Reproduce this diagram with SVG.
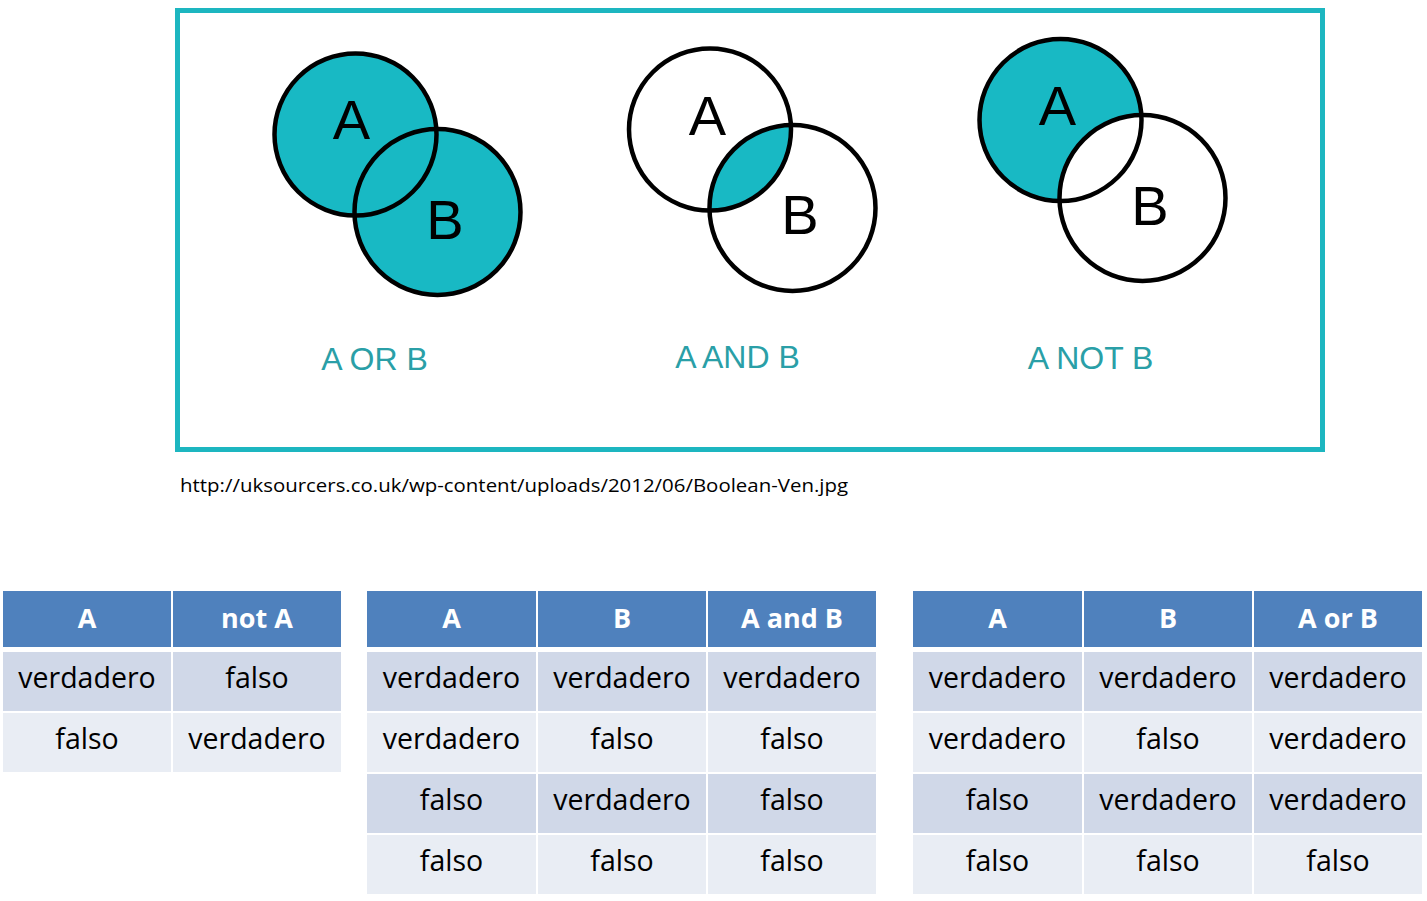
<svg xmlns="http://www.w3.org/2000/svg" width="1427" height="901" viewBox="0 0 1427 901">
<style>
.teal{fill:#18B9C4}
.ring{fill:none;stroke:#000;stroke-width:4.5}
.vl{font-family:"Liberation Sans",Arial,sans-serif;font-size:56px;fill:#000;text-anchor:middle}
.cap{font-family:"Liberation Sans",Arial,sans-serif;font-size:32px;fill:#2A9FA7;text-anchor:middle}
.hd{fill:#4F81BD}
.r1{fill:#D0D8E8}
.r2{fill:#E9EDF4}
.ht{font-family:"Open Sans","Noto Sans",sans-serif;font-weight:bold;font-size:27px;fill:#fff;text-anchor:middle}
.ct{font-family:"Open Sans","Noto Sans",sans-serif;font-size:28.5px;fill:#000;text-anchor:middle}
.url{font-family:"Open Sans","Noto Sans",sans-serif;font-size:19px;fill:#000}
</style>
<defs>
<clipPath id="clipA2"><circle cx="710" cy="129.5" r="81"/></clipPath>
</defs>
<rect width="1427" height="901" fill="#fff"/>
<rect id="frame" x="177.5" y="10.5" width="1145" height="439" fill="none" stroke="#1DB6C0" stroke-width="5"/>

<g id="venn-or">
<circle class="teal" cx="355.5" cy="134.5" r="81"/>
<circle class="teal" cx="437.5" cy="212" r="83"/>
<circle class="ring" cx="355.5" cy="134.5" r="81"/>
<circle class="ring" cx="437.5" cy="212" r="83"/>
<text class="vl" x="351.5" y="139">A</text>
<text class="vl" x="445" y="239">B</text>
<text class="cap" x="374.5" y="370">A OR B</text>
</g>

<g id="venn-and">
<circle class="teal" cx="792.5" cy="208" r="83" clip-path="url(#clipA2)"/>
<circle class="ring" cx="710" cy="129.5" r="81"/>
<circle class="ring" cx="792.5" cy="208" r="83"/>
<text class="vl" x="707.5" y="135">A</text>
<text class="vl" x="800" y="234">B</text>
<text class="cap" x="737.5" y="368">A AND B</text>
</g>

<g id="venn-not">
<circle class="teal" cx="1060.5" cy="120" r="81"/>
<circle fill="#fff" cx="1142.5" cy="198" r="83"/>
<circle class="ring" cx="1060.5" cy="120" r="81"/>
<circle class="ring" cx="1142.5" cy="198" r="83"/>
<text class="vl" x="1057.5" y="125">A</text>
<text class="vl" x="1150" y="225">B</text>
<text class="cap" x="1090.5" y="369">A NOT B</text>
</g>

<text id="source" class="url" x="180" y="492" textLength="668" lengthAdjust="spacingAndGlyphs">http://uksourcers.co.uk/wp-content/uploads/2012/06/Boolean-Ven.jpg</text>

<g id="table-not">
<rect class="hd" x="3" y="591" width="168" height="56"/>
<rect class="hd" x="173" y="591" width="168" height="56"/>
<rect class="r1" x="3" y="652" width="168" height="59"/>
<rect class="r1" x="173" y="652" width="168" height="59"/>
<rect class="r2" x="3" y="713" width="168" height="59"/>
<rect class="r2" x="173" y="713" width="168" height="59"/>
<text class="ht" x="87" y="628">A</text>
<text class="ht" x="257" y="628">not A</text>
<text class="ct" x="87" y="688">verdadero</text>
<text class="ct" x="257" y="688">falso</text>
<text class="ct" x="87" y="749">falso</text>
<text class="ct" x="257" y="749">verdadero</text>
</g>

<g id="table-and">
<rect class="hd" x="367" y="591" width="169" height="56"/>
<rect class="hd" x="538" y="591" width="168" height="56"/>
<rect class="hd" x="708" y="591" width="168" height="56"/>
<rect class="r1" x="367" y="652" width="169" height="59"/>
<rect class="r1" x="538" y="652" width="168" height="59"/>
<rect class="r1" x="708" y="652" width="168" height="59"/>
<rect class="r2" x="367" y="713" width="169" height="59"/>
<rect class="r2" x="538" y="713" width="168" height="59"/>
<rect class="r2" x="708" y="713" width="168" height="59"/>
<rect class="r1" x="367" y="774" width="169" height="59"/>
<rect class="r1" x="538" y="774" width="168" height="59"/>
<rect class="r1" x="708" y="774" width="168" height="59"/>
<rect class="r2" x="367" y="835" width="169" height="59"/>
<rect class="r2" x="538" y="835" width="168" height="59"/>
<rect class="r2" x="708" y="835" width="168" height="59"/>
<text class="ht" x="451.5" y="628">A</text>
<text class="ht" x="622" y="628">B</text>
<text class="ht" x="792" y="628">A and B</text>
<text class="ct" x="451.5" y="688">verdadero</text>
<text class="ct" x="622" y="688">verdadero</text>
<text class="ct" x="792" y="688">verdadero</text>
<text class="ct" x="451.5" y="749">verdadero</text>
<text class="ct" x="622" y="749">falso</text>
<text class="ct" x="792" y="749">falso</text>
<text class="ct" x="451.5" y="810">falso</text>
<text class="ct" x="622" y="810">verdadero</text>
<text class="ct" x="792" y="810">falso</text>
<text class="ct" x="451.5" y="871">falso</text>
<text class="ct" x="622" y="871">falso</text>
<text class="ct" x="792" y="871">falso</text>
</g>

<g id="table-or">
<rect class="hd" x="913" y="591" width="169" height="56"/>
<rect class="hd" x="1084" y="591" width="168" height="56"/>
<rect class="hd" x="1254" y="591" width="168" height="56"/>
<rect class="r1" x="913" y="652" width="169" height="59"/>
<rect class="r1" x="1084" y="652" width="168" height="59"/>
<rect class="r1" x="1254" y="652" width="168" height="59"/>
<rect class="r2" x="913" y="713" width="169" height="59"/>
<rect class="r2" x="1084" y="713" width="168" height="59"/>
<rect class="r2" x="1254" y="713" width="168" height="59"/>
<rect class="r1" x="913" y="774" width="169" height="59"/>
<rect class="r1" x="1084" y="774" width="168" height="59"/>
<rect class="r1" x="1254" y="774" width="168" height="59"/>
<rect class="r2" x="913" y="835" width="169" height="59"/>
<rect class="r2" x="1084" y="835" width="168" height="59"/>
<rect class="r2" x="1254" y="835" width="168" height="59"/>
<text class="ht" x="997.5" y="628">A</text>
<text class="ht" x="1168" y="628">B</text>
<text class="ht" x="1338" y="628">A or B</text>
<text class="ct" x="997.5" y="688">verdadero</text>
<text class="ct" x="1168" y="688">verdadero</text>
<text class="ct" x="1338" y="688">verdadero</text>
<text class="ct" x="997.5" y="749">verdadero</text>
<text class="ct" x="1168" y="749">falso</text>
<text class="ct" x="1338" y="749">verdadero</text>
<text class="ct" x="997.5" y="810">falso</text>
<text class="ct" x="1168" y="810">verdadero</text>
<text class="ct" x="1338" y="810">verdadero</text>
<text class="ct" x="997.5" y="871">falso</text>
<text class="ct" x="1168" y="871">falso</text>
<text class="ct" x="1338" y="871">falso</text>
</g>
</svg>
